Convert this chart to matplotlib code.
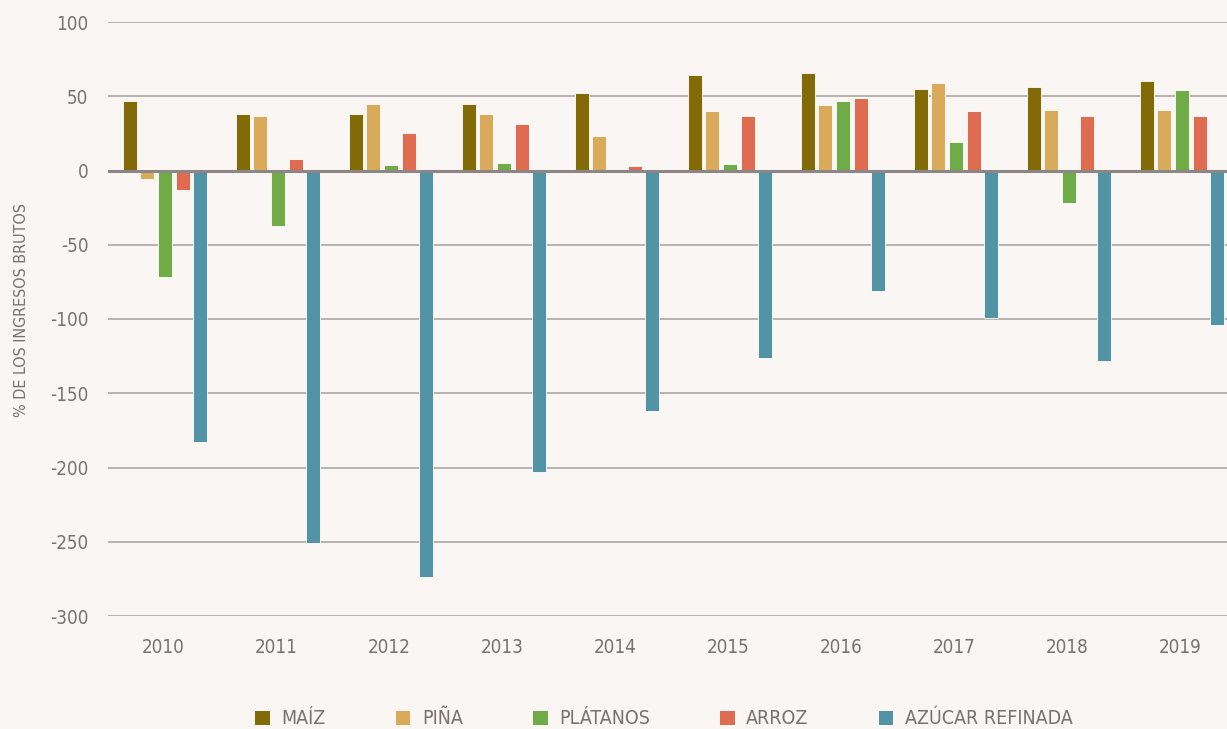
import numpy as np
import matplotlib.pyplot as plt
from matplotlib.patches import Patch

# ==========================================
# DATA
# ==========================================
years = ['2010', '2011', '2012', '2013', '2014', '2015', '2016', '2017', '2018', '2019']
series_names = ['MAÍZ', 'PIÑA', 'PLÁTANOS', 'ARROZ', 'AZÚCAR REFINADA']

maiz = [46.5, 38, 38, 45, 52, 64, 65.5, 55, 56, 60]
pina = [-6, 36.5, 44.5, 38, 23, 40, 44, 59, 40.5, 41]
platanos = [-72, -37.5, 4, 5, -2, 4.5, 46.5, 19, -22, 54.5]
arroz = [-13, 8, 25, 31, 3, 37, 48.5, 40, 36.5, 37]
azucar = [-183, -251, -274, -203, -162, -126.5, -81, -99, -128, -104]

y_ticks = [100, 50, 0, -50, -100, -150, -200, -250, -300]

colors = ['#826a06', '#d9aa5a', '#6fac47', '#df6b51', '#5293a6']
bg = '#faf6f3'
text_col = '#777272'

plt.rcParams['font.family'] = ['DejaVu Sans']
plt.rcParams['font.stretch'] = 'condensed'

fig = plt.figure(figsize=(12.27, 7.29), dpi=100, facecolor=bg)
ax = fig.add_axes([108 / 1227, 1 - 616 / 729, 1 - 108 / 1227, (616 - 22) / 729])
ax.set_facecolor(bg)

x = np.arange(len(years))
step = 0.155
width = 0.124
all_series = [maiz, pina, platanos, arroz, azucar]
for k, vals in enumerate(all_series):
    ax.bar(x + (k - 2) * step, vals, width=width, color=colors[k],
           edgecolor='#ffffff', linewidth=0.6, zorder=3)

# gridlines
for t in y_ticks:
    if t == 0:
        ax.axhline(0, color='#8c8786', linewidth=2.2, zorder=4)
    else:
        ax.axhline(t, color='#aca7a4', linewidth=1.2, zorder=1)

ax.set_ylim(-300, 100)
ax.set_xlim((108 - 165) / 113, (1227 - 165) / 113)
ax.set_yticks(y_ticks)
ax.set_yticklabels([str(t) for t in y_ticks])
ax.set_xticks(x - 0.02)
ax.set_xticklabels(years)
ax.tick_params(axis='y', length=0, pad=14, labelsize=13.5, labelcolor=text_col)
ax.tick_params(axis='x', length=0, pad=16, labelsize=13.5, labelcolor=text_col)
for s in ax.spines.values():
    s.set_visible(False)

fig.text(22 / 1227, 1 - 310 / 729, '% DE LOS INGRESOS BRUTOS', rotation=90,
         ha='center', va='center', fontsize=11.5, color=text_col)

handles = [Patch(facecolor=c, edgecolor='none') for c in colors]
fig.legend(handles, series_names, loc='center', bbox_to_anchor=(664 / 1227, 1 - 719 / 729),
           ncol=5, frameon=False, fontsize=14, labelcolor=text_col,
           handlelength=0.75, handleheight=0.75, handletextpad=0.6, columnspacing=3.6)

fig.savefig('out.png', dpi=100, facecolor=bg)
